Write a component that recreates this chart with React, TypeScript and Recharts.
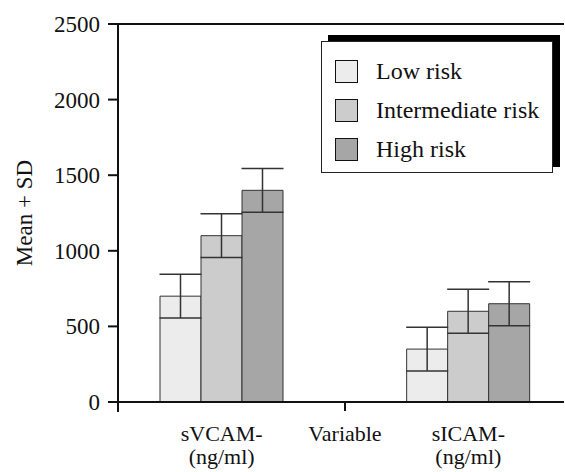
import React from "react";
import { BarChart, Bar, XAxis, YAxis, ErrorBar, ReferenceLine, Legend } from "recharts";

const categories = ["sVCAM-\n(ng/ml)", "Variable", "sICAM-\n(ng/ml)"];
const lowRisk = [700, null, 350];
const intermediateRisk = [1100, null, 600];
const highRisk = [1400, null, 650];
const lowSd = [145, null, 145];
const intermediateSd = [145, null, 145];
const highSd = [145, null, 145];
const yTicks = [0, 500, 1000, 1500, 2000, 2500];

const seriesNames = ["Low risk", "Intermediate risk", "High risk"];
const colors = ["#ececec", "#cccccc", "#a6a6a6"];

const data = categories.map((name, i) => ({
  name,
  low: lowRisk[i],
  mid: intermediateRisk[i],
  high: highRisk[i],
  lowSd: lowSd[i],
  midSd: intermediateSd[i],
  highSd: highSd[i],
}));

const FONT = "Liberation Serif, Times New Roman, serif";
const FS = 23;
const XFS = 22;
const TICK_SIZE = 10;
const TICK_MARGIN = 8;

function XTick(props: any) {
  const { x, y, payload } = props;
  const lines = String(payload.value).split("\n");
  return (
    <g>
      {payload.value === "Variable" && (
        <line x1={x} y1={y - 9} x2={x} y2={y + 1} stroke="#111" strokeWidth={2} />
      )}
      {lines.map((l, i) => (
        <text
          key={i}
          x={x}
          y={y + 31 + i * 23}
          textAnchor="middle"
          fontFamily={FONT}
          fontSize={XFS}
          style={{ fontFamily: FONT, fontSize: XFS }}
          fill="#111"
        >
          {l}
        </text>
      ))}
    </g>
  );
}

function YTick(props: any) {
  const { x, y, payload } = props;
  const axisX = x + TICK_SIZE + TICK_MARGIN;
  return (
    <g>
      <text
        x={x}
        y={y}
        dy={8}
        textAnchor="end"
        fontFamily={FONT}
        fontSize={FS}
        style={{ fontFamily: FONT, fontSize: FS }}
        fill="#111"
      >
        {payload.value}
      </text>
      {payload.value === 0 && (
        <line x1={axisX} y1={y} x2={axisX} y2={y + 10} stroke="#111" strokeWidth={2} />
      )}
    </g>
  );
}

function LegendBox() {
  return (
    <div
      style={{
        width: 232,
        height: 132,
        border: "1.5px solid #222",
        background: "#fff",
        boxShadow: "7px -6px 0 #000",
        fontFamily: FONT,
        fontSize: 24,
        color: "#111",
        paddingTop: 10,
        boxSizing: "border-box",
        textAlign: "left",
      }}
    >
      {seriesNames.map((n, i) => (
        <div key={n} style={{ display: "flex", alignItems: "center", height: 39, paddingLeft: 13 }}>
          <div
            style={{
              width: 21,
              height: 21,
              background: colors[i],
              border: "1.5px solid #111",
              marginRight: 18,
              flexShrink: 0,
            }}
          />
          <span style={{ whiteSpace: "nowrap" }}>{n}</span>
        </div>
      ))}
    </div>
  );
}

export default function App() {
  return (
    <div style={{ position: "absolute", left: 0, top: 0, width: 565, height: 472, background: "#fff" }}>
      <BarChart
        width={565}
        height={472}
        data={data}
        margin={{ top: 24, right: 1, bottom: 0, left: 0 }}
        barCategoryGap={0}
        barGap={0}
      >
        <XAxis
          dataKey="name"
          height={70}
          axisLine={{ stroke: "#111", strokeWidth: 2 }}
          tickLine={false}
          tickSize={6}
          tickMargin={2}
          tick={<XTick />}
          interval={0}
          padding={{ left: 42, right: 34 }}
        />
        <YAxis
          width={118}
          domain={[0, 2500]}
          ticks={yTicks}
          axisLine={{ stroke: "#111", strokeWidth: 2 }}
          tickLine={{ stroke: "#111", strokeWidth: 2 }}
          tickSize={TICK_SIZE}
          tickMargin={TICK_MARGIN}
          tick={<YTick />}
          label={{
            value: "Mean + SD",
            angle: -90,
            position: "insideLeft",
            offset: 24,
            fontFamily: FONT,
            style: { textAnchor: "middle", fontFamily: FONT, fontSize: FS, fill: "#111" },
          }}
        />
        <ReferenceLine y={2500} stroke="#111" strokeWidth={2} />
        <Legend
          layout="horizontal"
          verticalAlign="middle"
          align="center"
          content={<LegendBox />}
          wrapperStyle={{ position: "absolute", left: 321, top: 41, width: "auto", height: "auto" }}
        />
        <Bar dataKey="low" name={seriesNames[0]} fill={colors[0]} stroke="#333" strokeWidth={1} isAnimationActive={false}>
          <ErrorBar dataKey="lowSd" width={21} stroke="#333" strokeWidth={1.5} direction="y" isAnimationActive={false} />
        </Bar>
        <Bar dataKey="mid" name={seriesNames[1]} fill={colors[1]} stroke="#333" strokeWidth={1} isAnimationActive={false}>
          <ErrorBar dataKey="midSd" width={21} stroke="#333" strokeWidth={1.5} direction="y" isAnimationActive={false} />
        </Bar>
        <Bar dataKey="high" name={seriesNames[2]} fill={colors[2]} stroke="#333" strokeWidth={1} isAnimationActive={false}>
          <ErrorBar dataKey="highSd" width={21} stroke="#333" strokeWidth={1.5} direction="y" isAnimationActive={false} />
        </Bar>
      </BarChart>
    </div>
  );
}
